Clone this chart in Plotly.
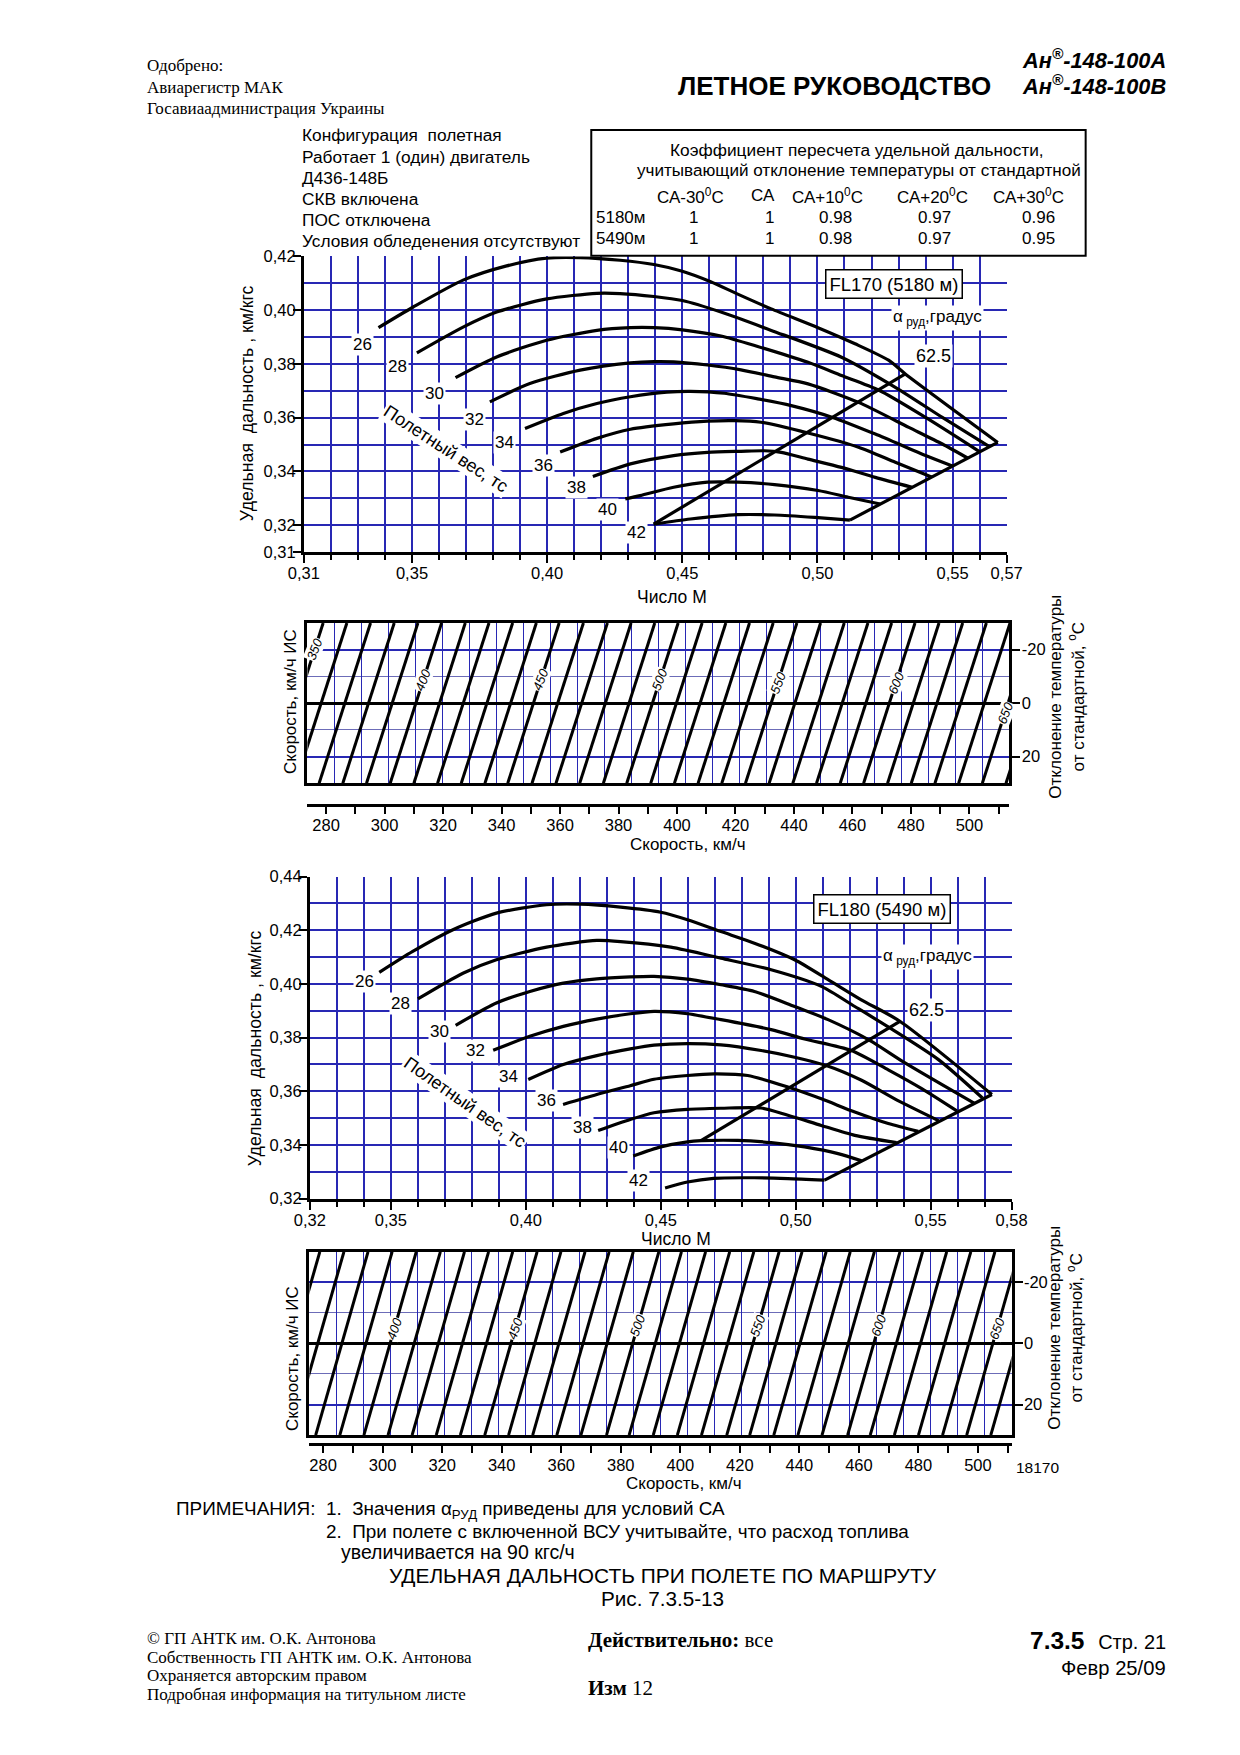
import plotly.graph_objects as go

# ======================= DATA =======================
weights = [26, 28, 30, 32, 34, 36, 38, 40, 42]

# FL170 (5180 m): Mach number / specific range (km/kgf) per flight weight
fl170_mach = [
    [0.3376, 0.3503, 0.3689, 0.3850, 0.3998, 0.4122, 0.4270, 0.4395, 0.4500, 0.4605, 0.4705, 0.4829, 0.5002, 0.5139, 0.5263, 0.5325, 0.5667],
    [0.3518, 0.3689, 0.3813, 0.3998, 0.4184, 0.4270, 0.4395, 0.4500, 0.4643, 0.4829, 0.5089, 0.5288, 0.5462, 0.5636],
    [0.3661, 0.3813, 0.3998, 0.4184, 0.4308, 0.4395, 0.4500, 0.4643, 0.4779, 0.4965, 0.5089, 0.5226, 0.5400, 0.5599],
    [0.3788, 0.3936, 0.4122, 0.4308, 0.4395, 0.4468, 0.4593, 0.4717, 0.4841, 0.4965, 0.5152, 0.5338, 0.5462, 0.5555],
    [0.3918, 0.4060, 0.4184, 0.4308, 0.4443, 0.4530, 0.4655, 0.4779, 0.4903, 0.5056, 0.5214, 0.5400, 0.5499],
    [0.4048, 0.4184, 0.4308, 0.4468, 0.4593, 0.4692, 0.4791, 0.4965, 0.5152, 0.5288, 0.5422],
    [0.4169, 0.4308, 0.4468, 0.4593, 0.4717, 0.4804, 0.4866, 0.4965, 0.5089, 0.5214, 0.5350],
    [0.4289, 0.4344, 0.4468, 0.4593, 0.4704, 0.4841, 0.5002, 0.5114, 0.5232],
    [0.4394, 0.4530, 0.4704, 0.4841, 0.4990, 0.5120],
]
fl170_sr = [
    [0.3935, 0.4011, 0.4112, 0.4165, 0.4194, 0.4196, 0.4186, 0.4170, 0.4145, 0.4106, 0.4060, 0.4005, 0.3935, 0.3875, 0.3814, 0.3763, 0.3508],
    [0.3841, 0.3937, 0.3993, 0.4042, 0.4063, 0.4062, 0.4051, 0.4036, 0.3993, 0.3925, 0.3825, 0.3713, 0.3601, 0.3492],
    [0.3749, 0.3826, 0.3888, 0.3925, 0.3935, 0.3935, 0.3927, 0.3904, 0.3865, 0.3806, 0.3757, 0.3703, 0.3601, 0.3474],
    [0.3659, 0.3727, 0.3777, 0.3804, 0.3809, 0.3808, 0.3796, 0.3778, 0.3752, 0.3726, 0.3657, 0.3564, 0.3502, 0.3450],
    [0.3560, 0.3616, 0.3653, 0.3678, 0.3695, 0.3698, 0.3691, 0.3670, 0.3645, 0.3601, 0.3539, 0.3459, 0.3420],
    [0.3472, 0.3523, 0.3557, 0.3577, 0.3587, 0.3589, 0.3583, 0.3543, 0.3490, 0.3434, 0.3379],
    [0.3381, 0.3428, 0.3459, 0.3471, 0.3475, 0.3477, 0.3471, 0.3446, 0.3415, 0.3378, 0.3341],
    [0.3298, 0.3310, 0.3341, 0.3360, 0.3360, 0.3351, 0.3329, 0.3304, 0.3279],
    [0.3204, 0.3223, 0.3239, 0.3238, 0.3229, 0.3219],
]
fl170_a625_mach = [0.4394, 0.5325]
fl170_a625_sr = [0.3204, 0.3763]
fl170_a69_mach = [0.5120, 0.5667]
fl170_a69_sr = [0.3219, 0.3508]

# FL180 (5490 m)
fl180_mach = [
    [0.3457, 0.3581, 0.3730, 0.3891, 0.4077, 0.4201, 0.4351, 0.4500, 0.4599, 0.4723, 0.4847, 0.4996, 0.5120, 0.5243, 0.5386, 0.5727],
    [0.3600, 0.3767, 0.3891, 0.4077, 0.4263, 0.4351, 0.4537, 0.4723, 0.4909, 0.5095, 0.5219, 0.5349, 0.5529, 0.5692],
    [0.3740, 0.3891, 0.4015, 0.4139, 0.4263, 0.4387, 0.4475, 0.4599, 0.4723, 0.4847, 0.4996, 0.5120, 0.5274, 0.5405, 0.5661],
    [0.3879, 0.4015, 0.4139, 0.4263, 0.4387, 0.4475, 0.4599, 0.4723, 0.4909, 0.5033, 0.5206, 0.5343, 0.5467, 0.5597],
    [0.4009, 0.4139, 0.4263, 0.4387, 0.4475, 0.4599, 0.4723, 0.4872, 0.4996, 0.5113, 0.5244, 0.5367, 0.5529],
    [0.4138, 0.4263, 0.4387, 0.4475, 0.4599, 0.4698, 0.4822, 0.4971, 0.5095, 0.5219, 0.5343, 0.5454],
    [0.4268, 0.4387, 0.4475, 0.4599, 0.4723, 0.4872, 0.4971, 0.5095, 0.5219, 0.5374],
    [0.4398, 0.4500, 0.4599, 0.4649, 0.4785, 0.4909, 0.5033, 0.5157, 0.5244],
    [0.4516, 0.4599, 0.4696, 0.4847, 0.4971, 0.5107],
]
fl180_sr = [
    [0.4043, 0.4121, 0.4202, 0.4264, 0.4295, 0.4297, 0.4286, 0.4267, 0.4239, 0.4195, 0.4152, 0.4090, 0.4016, 0.3941, 0.3861, 0.3588],
    [0.3944, 0.4040, 0.4090, 0.4137, 0.4162, 0.4158, 0.4137, 0.4096, 0.4053, 0.3991, 0.3916, 0.3836, 0.3718, 0.3575],
    [0.3846, 0.3929, 0.3972, 0.4003, 0.4019, 0.4026, 0.4028, 0.4018, 0.3997, 0.3972, 0.3916, 0.3867, 0.3790, 0.3706, 0.3556],
    [0.3753, 0.3805, 0.3842, 0.3869, 0.3889, 0.3898, 0.3889, 0.3867, 0.3830, 0.3795, 0.3752, 0.3680, 0.3610, 0.3527],
    [0.3644, 0.3700, 0.3733, 0.3758, 0.3772, 0.3778, 0.3773, 0.3752, 0.3727, 0.3696, 0.3641, 0.3572, 0.3491],
    [0.3551, 0.3588, 0.3621, 0.3645, 0.3659, 0.3665, 0.3659, 0.3616, 0.3572, 0.3523, 0.3480, 0.3451],
    [0.3454, 0.3495, 0.3520, 0.3533, 0.3537, 0.3538, 0.3511, 0.3473, 0.3436, 0.3409],
    [0.3359, 0.3393, 0.3412, 0.3416, 0.3417, 0.3409, 0.3393, 0.3368, 0.3341],
    [0.3240, 0.3262, 0.3276, 0.3278, 0.3275, 0.3269],
]
fl180_a625_mach = [0.4649, 0.5386]
fl180_a625_sr = [0.3416, 0.3861]
fl180_a69_mach = [0.5107, 0.5727]
fl180_a69_sr = [0.3269, 0.3588]

# Axis ticks
fl170_mach_ticks = [0.31, 0.35, 0.40, 0.45, 0.50, 0.55, 0.57]
fl170_sr_ticks = [0.31, 0.32, 0.34, 0.36, 0.38, 0.40, 0.42]
fl180_mach_ticks = [0.32, 0.35, 0.40, 0.45, 0.50, 0.55, 0.58]
fl180_sr_ticks = [0.32, 0.34, 0.36, 0.38, 0.40, 0.42, 0.44]
speed_ticks_start, speed_ticks_step = 280, 20
temp_ticks = [-20, 0, 20]

# Speed / temperature nomograms: IAS line value and its speed at ISA (dT = 0)
panel1_ias = [350, 360, 370, 380, 390, 400, 410, 420, 430, 440, 450, 460, 470, 480, 490, 500,
              510, 520, 530, 540, 550, 560, 570, 580, 590, 600, 610, 620, 630, 640, 650, 660]
panel1_tas_isa = [270.2, 278.3, 286.4, 294.5, 302.6, 310.7, 318.8, 326.9, 335.0, 343.1, 350.9, 359.2,
                  367.4, 375.5, 383.6, 391.6, 399.8, 407.9, 416.0, 424.1, 432.2, 440.3, 448.4, 456.5,
                  464.6, 472.6, 480.8, 488.9, 497.0, 505.1, 513.2, 521.3]
panel2_ias = [360, 370, 380, 390, 400, 410, 420, 430, 440, 450, 460, 470, 480, 490, 500, 510,
              520, 530, 540, 550, 560, 570, 580, 590, 600, 610, 620, 630, 640, 650, 660]
panel2_tas_isa = [270.1, 278.2, 286.3, 294.4, 302.5, 310.6, 318.7, 326.8, 334.9, 343.1, 351.1, 359.2,
                  367.3, 375.4, 384.0, 391.6, 399.7, 407.8, 415.9, 424.4, 432.1, 440.2, 448.3, 456.4,
                  465.0, 472.6, 480.7, 488.8, 496.9, 505.0, 513.1]
ias_line_tilt = 0.293   # km/h of speed per degree of temperature deviation
panel_label_ias = [350, 400, 450, 500, 550, 600, 650]

# Temperature correction table
table_cols = ["СА-30<sup>0</sup>С", "СА", "СА+10<sup>0</sup>С", "СА+20<sup>0</sup>С", "СА+30<sup>0</sup>С"]
table_rows = ["5180м", "5490м"]
table_vals = [["1", "1", "0.98", "0.97", "0.96"],
              ["1", "1", "0.98", "0.97", "0.95"]]

# ======================= FIGURE =======================
W, H = 1240, 1755
# page placement (measured offset / scale of the captured page)
OX, SX = 18.5, 0.9695
OY, SY = 7.85, 0.9912
FONT = "Liberation Sans, Arial, sans-serif"
SERIF = "Liberation Serif, Times New Roman, serif"
BLUE = "#2828b4"

def X(p):
    return ((p - OX) / SX) / W

def Y(p):
    return 1 - ((p - OY) / SY) / H

fig = go.Figure()
ann = []
shapes = []

def T(text, x, y, size=16, family=FONT, xanchor="left", yanchor="middle", **kw):
    ann.append(dict(text=text, x=X(x), y=Y(y), xref="paper", yref="paper", showarrow=False,
                    xanchor=xanchor, yanchor=yanchor, borderpad=0,
                    font=dict(size=size, family=family, color="black"), **kw))

def line_trace(xs, ys, xa, ya, shape="spline", width=3.2):
    fig.add_trace(go.Scatter(x=xs, y=ys, xaxis=xa, yaxis=ya, mode="lines",
                             line=dict(color="black", width=width, shape=shape, smoothing=0.7),
                             hoverinfo="skip", showlegend=False))

def dlabel(text, x, y, xref, yref, size=17, angle=0, pad=1, **kw):
    ann.append(dict(text=text, x=x, y=y, xref=xref, yref=yref, showarrow=False,
                    font=dict(size=size, family=FONT, color="black"), bgcolor="white",
                    borderpad=pad, textangle=angle, **kw))

# ---------- Chart 1 : FL170 ----------
for m, s in zip(fl170_mach, fl170_sr):
    line_trace(m, s, "x", "y")
line_trace(fl170_a625_mach, fl170_a625_sr, "x", "y", shape="linear")
line_trace(fl170_a69_mach, fl170_a69_sr, "x", "y", shape="linear")

fl170_label_pos = [(0.3317, 0.3872), (0.3445, 0.3790), (0.3583, 0.3691), (0.3732, 0.3592),
                   (0.3843, 0.3509), (0.3986, 0.3422), (0.4110, 0.3339), (0.4224, 0.3257),
                   (0.4330, 0.3174)]
for w, (lx, ly) in zip(weights, fl170_label_pos):
    dlabel(str(w), lx, ly, "x", "y")
dlabel("Полетный вес, тс", 0.3627, 0.3484, "x", "y", size=18, angle=33)
dlabel("FL170 (5180 м)", 0.5285, 0.4096, "x", "y", size=18.5, pad=3,
       bordercolor="black", borderwidth=1.5)
dlabel("α<sub> руд</sub>,градус", 0.5445, 0.3972, "x", "y", size=17)
dlabel("62.5", 0.5430, 0.3831, "x", "y", size=18)
dlabel("69", 0.5746, 0.3546, "x", "y", size=18)

# ---------- Chart 2 : FL180 ----------
for m, s in zip(fl180_mach, fl180_sr):
    line_trace(m, s, "x4", "y3")
line_trace(fl180_a625_mach, fl180_a625_sr, "x4", "y3", shape="linear")
line_trace(fl180_a69_mach, fl180_a69_sr, "x4", "y3", shape="linear")

fl180_label_pos = [(0.3401, 0.4010), (0.3537, 0.3927), (0.3682, 0.3824), (0.3813, 0.3753),
                   (0.3937, 0.3654), (0.4076, 0.3564), (0.4210, 0.3465), (0.4342, 0.3390),
                   (0.4417, 0.3266)]
for w, (lx, ly) in zip(weights, fl180_label_pos):
    dlabel(str(w), lx, ly, "x4", "y3")
dlabel("Полетный вес, тс", 0.3773, 0.3560, "x4", "y3", size=18, angle=35)
dlabel("FL180 (5490 м)", 0.5318, 0.4281, "x4", "y3", size=18.5, pad=3,
       bordercolor="black", borderwidth=1.5)
dlabel("α<sub> руд</sub>,градус", 0.5489, 0.4101, "x4", "y3", size=17)
dlabel("62.5", 0.5483, 0.3902, "x4", "y3", size=18)
dlabel("69", 0.5806, 0.3589, "x4", "y3", size=18)

# ---------- Speed / temperature panels ----------
def panel(ias, tas0, xa_grid, xa_speed, ya, label_dt, angle):
    fig.add_trace(go.Scatter(x=[], y=[], xaxis=xa_grid, yaxis=ya, hoverinfo="skip", showlegend=False))
    for v, t in zip(ias, tas0):
        line_trace([t + ias_line_tilt * 30, t - ias_line_tilt * 30], [-30, 30], xa_speed, ya,
                   shape="linear", width=3)
    for v, dt in zip(panel_label_ias, label_dt):
        if v in ias and dt is not None:
            t = tas0[ias.index(v)]
            ann.append(dict(text="<i>%d</i>" % v, x=t - ias_line_tilt * dt, y=dt, xref=xa_speed, yref=ya,
                            showarrow=False, textangle=angle, bgcolor="white", borderpad=0,
                            font=dict(size=13, family=FONT, color="black")))

panel(panel1_ias, panel1_tas_isa, "x2", "x3", "y2", [-20, -8.7, -8.7, -8.7, -7.5, -7.5, 3.7], -68)
panel(panel2_ias, panel2_tas_isa, "x5", "x6", "y4", [None, -4.9, -4.9, -5.8, -5.8, -5.8, -4.9], -70)

# ---------- Axes ----------
tickfont = dict(size=16.5, family=FONT, color="black")

def mach_axis(dom, rng, tv, anchor, standoff):
    return dict(domain=dom, range=rng, anchor=anchor, tickmode="array", tickvals=tv,
                ticktext=[f"{v:.2f}".replace(".", ",") for v in tv],
                ticks="outside", ticklen=8, tickwidth=2, tickcolor="black",
                ticklabelstandoff=standoff,
                showline=True, linecolor="black", linewidth=3, zeroline=False,
                showgrid=True, gridcolor=BLUE, gridwidth=1.5,
                minor=dict(tickmode="linear", tick0=rng[0], dtick=0.01, ticks="outside", ticklen=5,
                           tickwidth=1.5, tickcolor="black", showgrid=True, gridcolor=BLUE, gridwidth=1.5),
                tickfont=tickfont)

def sr_axis(dom, rng, tv, anchor):
    return dict(domain=dom, range=rng, anchor=anchor, tickmode="array", tickvals=tv,
                ticktext=[f"{v:.2f}".replace(".", ",") for v in tv],
                ticks="outside", ticklen=8, tickwidth=2, tickcolor="black",
                ticklabelstandoff=-6,
                showline=True, linecolor="black", linewidth=3, zeroline=False,
                showgrid=True, gridcolor=BLUE, gridwidth=1.5,
                minor=dict(tickmode="linear", tick0=rng[0], dtick=0.01, ticks="",
                           showgrid=True, gridcolor=BLUE, gridwidth=1.5),
                tickfont=tickfont)

def grid_axis(dom, anchor):
    return dict(domain=dom, range=[0, 26], anchor=anchor, tickmode="linear", tick0=0, dtick=1,
                showticklabels=False, ticks="", showgrid=True, gridcolor=BLUE, gridwidth=1,
                showline=True, mirror=True, linecolor="black", linewidth=3, zeroline=False)

def speed_axis(base, rng, pos, standoff):
    return dict(overlaying=base, range=rng, anchor="free", position=pos, side="bottom",
                tickmode="linear", tick0=speed_ticks_start, dtick=speed_ticks_step,
                ticks="outside", ticklen=7, tickwidth=2, tickcolor="black",
                ticklabelstandoff=standoff,
                minor=dict(tickmode="linear", tick0=speed_ticks_start - 10, dtick=10, ticks="outside",
                           ticklen=7, tickwidth=2, tickcolor="black", showgrid=False),
                showline=True, linecolor="black", linewidth=3, showgrid=False, zeroline=False,
                tickfont=tickfont)

def temp_axis(dom, anchor):
    return dict(domain=dom, range=[30, -30], anchor=anchor, side="right", tickmode="array",
                tickvals=temp_ticks, ticktext=[str(t) for t in temp_ticks],
                ticks="outside", ticklen=8, tickwidth=2, tickcolor="black",
                ticklabelstandoff=-2,
                showgrid=True, gridcolor=BLUE, gridwidth=1.5,
                minor=dict(tickmode="linear", tick0=-30, dtick=10, ticks="", showgrid=True,
                           gridcolor="#6c6cb8", gridwidth=1),
                zeroline=True, zerolinecolor="black", zerolinewidth=3,
                showline=True, mirror=True, linecolor="black", linewidth=3, tickfont=tickfont)

layout_axes = dict(
    xaxis=mach_axis([X(305), X(1004.4)], [0.31, 0.57], fl170_mach_ticks, "y", -4),
    yaxis=sr_axis([Y(551.7), Y(255.7)], [0.31, 0.42], fl170_sr_ticks, "x"),
    xaxis2=grid_axis([X(308.5), X(1007.2)], "y2"),
    xaxis3=speed_axis("x2", [273.6, 513.7], Y(805), -3),
    yaxis2=temp_axis([Y(783.3), Y(622.7)], "x2"),
    xaxis4=mach_axis([X(311), X(1009.3)], [0.32, 0.58], fl180_mach_ticks, "y3", -3),
    yaxis3=sr_axis([Y(1199.3), Y(876.7)], [0.32, 0.44], fl180_sr_ticks, "x4"),
    xaxis5=grid_axis([X(310.5), X(1009.3)], "y4"),
    xaxis6=speed_axis("x5", [275.4, 511.3], Y(1445), -2),
    yaxis4=temp_axis([Y(1436), Y(1252.5)], "x5"),
)

# ---------- Axis titles ----------
T("Удельная  дальность , км/кгс", 248, 403, 17.7, xanchor="center", textangle=-90)
T("Число М", 671, 597, 17.5, xanchor="center")
T("Скорость, км/ч ИС", 291, 701, 17, xanchor="center", textangle=-90)
T("Отклонение температуры<br>от стандартной, <sup>о</sup>С", 1064, 697, 17, xanchor="center", textangle=-90)
T("Скорость, км/ч", 687, 844.5, 17, xanchor="center")
T("Удельная  дальность , км/кгс", 256, 1049, 17.7, xanchor="center", textangle=-90)
T("Число М", 675, 1240, 17.5, xanchor="center")
T("Скорость, км/ч ИС", 293, 1359, 17, xanchor="center", textangle=-90)
T("Отклонение температуры<br>от стандартной, <sup>о</sup>С", 1063, 1329, 17, xanchor="center", textangle=-90)
T("Скорость, км/ч", 683, 1485, 17, xanchor="center")
T("18170", 1035, 1468, 15.5, xanchor="center")

# ---------- Header ----------
T("Одобрено:", 148, 64, 17, SERIF)
T("Авиарегистр МАК", 148, 86, 17, SERIF)
T("Госавиаадминистрация Украины", 148, 107.5, 17, SERIF)
T("<b>ЛЕТНОЕ РУКОВОДСТВО</b>", 990, 85, 26, xanchor="right")
T("<b><i>Ан<sup>®</sup>-148-100А</i></b>", 1164, 58, 21.8, xanchor="right")
T("<b><i>Ан<sup>®</sup>-148-100В</i></b>", 1164, 84, 21.8, xanchor="right")

info_lines = ["Конфигурация  полетная", "Работает 1 (один) двигатель", "Д436-148Б",
              "СКВ включена", "ПОС отключена", "Условия обледенения отсутствуют"]
for i, s in enumerate(info_lines):
    T(s, 302, 134.3 + i * 21.27, 17.3)

# table
shapes.append(dict(type="rect", xref="paper", yref="paper", x0=X(591), x1=X(1083), y0=Y(255), y1=Y(129),
                   line=dict(color="black", width=2), fillcolor="white", layer="above"))
T("Коэффициент пересчета удельной дальности,", 855, 149, 17.3, xanchor="center")
T("учитывающий отклонение температуры от стандартной", 857, 170, 17.1, xanchor="center")
col_head_x = [690, 762, 826, 931, 1026]
col_val_x = [693, 768, 834, 933, 1036]
for c, cx in zip(table_cols, col_head_x):
    T(c, cx, 194.7, 17, xanchor="center")
for r, (rname, vals) in enumerate(zip(table_rows, table_vals)):
    ry = 217 + r * 20.5
    T(rname, 621, ry, 17, xanchor="center")
    for v, cx in zip(vals, col_val_x):
        T(v, cx, ry, 17, xanchor="center")

# ---------- Notes ----------
T("ПРИМЕЧАНИЯ:  1.  Значения α<sub>РУД</sub> приведены для условий СА", 177, 1511, 18.9)
T("2.  При полете с включенной ВСУ учитывайте, что расход топлива", 326, 1533, 18.9)
T("увеличивается на 90 кгс/ч", 341, 1553, 19.5)
T("УДЕЛЬНАЯ ДАЛЬНОСТЬ ПРИ ПОЛЕТЕ ПО МАРШРУТУ", 662, 1577, 20.9, xanchor="center")
T("Рис. 7.3.5-13", 662, 1600, 20.7, xanchor="center")

# ---------- Footer ----------
T("© ГП АНТК им. О.К. Антонова", 148, 1640, 17, SERIF)
T("Собственность ГП АНТК им. О.К. Антонова", 148, 1658.5, 17, SERIF)
T("Охраняется авторским правом", 148, 1676.5, 17, SERIF)
T("Подробная информация на титульном листе", 148, 1695.5, 17, SERIF)
T("<b>Действительно:</b> все", 587, 1641, 21, SERIF)
T("<b>Изм</b> 12", 587, 1689, 21, SERIF)
T("<b>7.3.5</b>  <span style='font-size:20px'>Стр. 21</span>", 1164, 1642, 24.5, xanchor="right")
T("Февр 25/09", 1164, 1669, 20.2, xanchor="right")

fig.update_layout(width=W, height=H, margin=dict(l=0, r=0, t=0, b=0, pad=0),
                  paper_bgcolor="white", plot_bgcolor="white", showlegend=False,
                  font=dict(family=FONT, color="black", size=16),
                  annotations=ann, shapes=shapes, **layout_axes)

fig.write_html("out.html")
